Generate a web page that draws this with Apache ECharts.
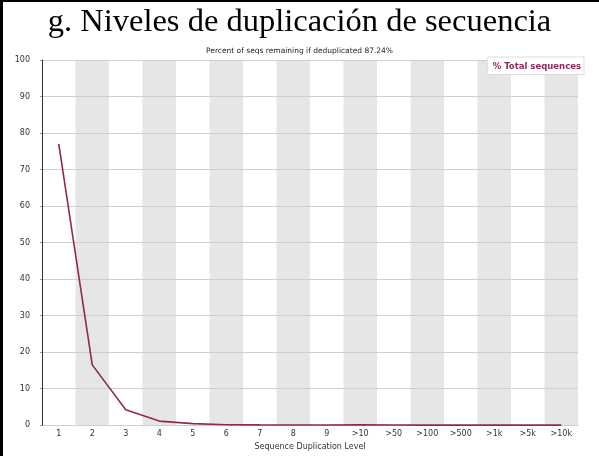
<!DOCTYPE html>
<html>
<head>
<meta charset="utf-8">
<script src="https://cdn.jsdelivr.net/npm/echarts@6/dist/echarts.min.js"></script>
<style>
	html, body { margin: 0; padding: 0; background: #fff; }
	.wrap { position: relative; width: 599px; height: 456px; overflow: hidden; }
	#chart { position: absolute; left: 0; top: 0; width: 599px; height: 456px; }
	.bTop { position: absolute; left: 0; top: 0; width: 599px; height: 2px; background: #000; }
	.bLeft { position: absolute; left: 0; top: 0; width: 3px; height: 456px; background: #000; }
</style>
</head>
<body>
<div class="wrap">
	<div id="chart"></div>
	<div class="bTop"></div>
	<div class="bLeft"></div>
</div>
<script>
// duplication levels (x categories)
var levels = ['1', '2', '3', '4', '5', '6', '7', '8', '9', '>10', '>50', '>100', '>500', '>1k', '>5k', '>10k'];
// % total sequences
var totalSeqs = [77, 16.5, 4.2, 1.1, 0.4, 0.1, 0.05, 0.03, 0.02, 0.05, 0.02, 0, 0, 0, 0, 0];
var yTicks = [0, 10, 20, 30, 40, 50, 60, 70, 80, 90, 100];

var myChart = echarts.init(document.getElementById('chart'));
var option = {
	animation: false,
	title: [
		{
			text: 'g. Niveles de duplicación de secuencia',
			left: 'center',
			top: 1,
			textStyle: { fontFamily: 'Liberation Serif', fontSize: 32.5, fontWeight: 'normal', color: '#000' }
		},
		{
			text: 'Percent of seqs remaining if deduplicated 87.24%',
			left: 'center',
			top: 42,
			textStyle: { fontFamily: 'DejaVu Sans', fontSize: 7.5, fontWeight: 'normal', color: '#222' }
		}
	],
	legend: {
		data: ['% Total sequences'],
		icon: 'none',
		itemWidth: 0,
		itemGap: 0,
		right: 15,
		top: 57,
		padding: [3, 3, 3, 0],
		backgroundColor: '#fff',
		borderColor: '#ddd',
		borderWidth: 1,
		textStyle: { fontFamily: 'DejaVu Sans', fontSize: 8.5, fontWeight: 'bold', color: '#8f2757' }
	},
	grid: { left: 42, right: 21, top: 60, bottom: 27 },
	xAxis: {
		type: 'category',
		data: levels,
		boundaryGap: true,
		name: 'Sequence Duplication Level',
		nameLocation: 'middle',
		nameGap: 16,
		nameTextStyle: { fontFamily: 'DejaVu Sans', fontSize: 8, color: '#333' },
		axisLine: { lineStyle: { color: '#ccc' } },
		axisTick: { show: false },
		axisLabel: { fontFamily: 'DejaVu Sans', fontSize: 8, color: '#333', margin: 5 },
		splitArea: { show: true, areaStyle: { color: ['#ffffff', '#e6e6e6'] } },
		splitLine: { show: false },
		z: 0
	},
	yAxis: {
		type: 'value',
		min: yTicks[0],
		max: yTicks[yTicks.length - 1],
		interval: 10,
		axisLine: { show: true, lineStyle: { color: '#333' } },
		axisTick: { show: true, length: 2, lineStyle: { color: '#999' } },
		axisLabel: { fontFamily: 'DejaVu Sans', fontSize: 8, color: '#333', margin: 12 },
		splitLine: { lineStyle: { color: '#cfcfcf' } },
		z: 2
	},
	series: [
		{
			name: '% Total sequences',
			type: 'line',
			data: totalSeqs,
			symbol: 'none',
			lineStyle: { color: '#8f2757', width: 1.6 },
			itemStyle: { color: '#8f2757' },
			z: 5
		}
	]
};
myChart.setOption(option);
</script>
</body>
</html>
